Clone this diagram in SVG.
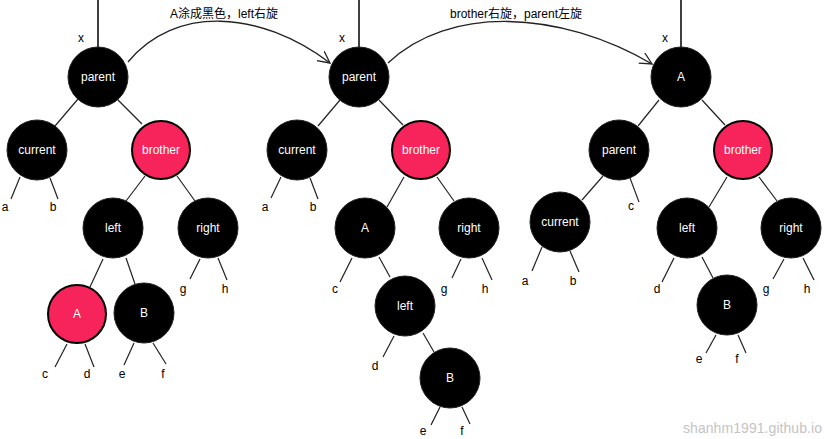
<svg xmlns="http://www.w3.org/2000/svg" width="824" height="439" viewBox="0 0 824 439">
<style>
.b{fill:#000;stroke:#222;stroke-width:1}
.r{fill:#F6245A;stroke:#000;stroke-width:2}
.nt{font-family:"Liberation Sans",Arial,sans-serif;font-size:12px;fill:#fff;text-anchor:middle}
.lt{font-family:"Liberation Sans",Arial,sans-serif;font-size:12px;fill:#000;text-anchor:middle}
.cap{font-family:"Liberation Sans","Noto Sans CJK SC",sans-serif;font-size:12px;fill:#000}
.e{stroke:#222;stroke-width:1.2;fill:none}
.top{stroke:#000;stroke-width:1.5}
.arc{stroke:#222;stroke-width:1.3;fill:none}
.wm{font-family:"Liberation Sans","Noto Sans",sans-serif;font-size:14px;fill:#c4c4c4}
</style>
<defs>
<marker id="ah" markerWidth="14" markerHeight="14" refX="12" refY="6" orient="auto" markerUnits="userSpaceOnUse">
<path d="M0,0 L12,6 L0,12" fill="none" stroke="#222" stroke-width="1.3"/>
</marker>
</defs>
<rect width="824" height="439" fill="#fff"/>
<g id="connectors">
<line class="top" x1="98" y1="0" x2="98" y2="47"/>
<line class="top" x1="359" y1="0" x2="359" y2="47"/>
<line class="top" x1="681" y1="0" x2="681" y2="47"/>
<path class="arc" d="M128,62 C175,5 260,10 330,63" marker-end="url(#ah)"/>
<path class="arc" d="M388,63 C449,5 560,10 652,64" marker-end="url(#ah)"/>
<!-- tree 1 -->
<line class="e" x1="78" y1="99" x2="55" y2="126"/>
<line class="e" x1="117" y1="99" x2="142" y2="124"/>
<line class="e" x1="20" y1="177" x2="11" y2="199"/>
<line class="e" x1="50" y1="178" x2="58" y2="199"/>
<line class="e" x1="145" y1="176" x2="126" y2="201"/>
<line class="e" x1="177" y1="176" x2="195" y2="201"/>
<line class="e" x1="103" y1="259" x2="90" y2="287"/>
<line class="e" x1="126" y1="258" x2="135" y2="284"/>
<line class="e" x1="200" y1="259" x2="190" y2="279"/>
<line class="e" x1="218" y1="258" x2="227" y2="280"/>
<line class="e" x1="67" y1="344" x2="55" y2="367"/>
<line class="e" x1="85" y1="344" x2="94" y2="367"/>
<line class="e" x1="134" y1="343" x2="124" y2="365"/>
<line class="e" x1="153" y1="343" x2="166" y2="364"/>
<!-- tree 2 -->
<line class="e" x1="340" y1="100" x2="318" y2="126"/>
<line class="e" x1="379" y1="100" x2="403" y2="125"/>
<line class="e" x1="281" y1="177" x2="271" y2="198"/>
<line class="e" x1="310" y1="178" x2="318" y2="199"/>
<line class="e" x1="404" y1="177" x2="387" y2="207"/>
<line class="e" x1="437" y1="177" x2="454" y2="201"/>
<line class="e" x1="352" y1="258" x2="340" y2="282"/>
<line class="e" x1="379" y1="257" x2="390" y2="277"/>
<line class="e" x1="461" y1="259" x2="452" y2="278"/>
<line class="e" x1="482" y1="258" x2="492" y2="280"/>
<line class="e" x1="394" y1="336" x2="383" y2="357"/>
<line class="e" x1="423" y1="333" x2="434" y2="352"/>
<line class="e" x1="440" y1="407" x2="431" y2="425"/>
<line class="e" x1="462" y1="407" x2="470" y2="424"/>
<!-- tree 3 -->
<line class="e" x1="659" y1="100" x2="638" y2="126"/>
<line class="e" x1="702" y1="100" x2="725" y2="125"/>
<line class="e" x1="603" y1="176" x2="582" y2="200"/>
<line class="e" x1="630" y1="178" x2="639" y2="202"/>
<line class="e" x1="542" y1="247" x2="532" y2="271"/>
<line class="e" x1="570" y1="251" x2="579" y2="272"/>
<line class="e" x1="727" y1="177" x2="709" y2="207"/>
<line class="e" x1="759" y1="177" x2="777" y2="201"/>
<line class="e" x1="674" y1="258" x2="662" y2="282"/>
<line class="e" x1="702" y1="257" x2="713" y2="278"/>
<line class="e" x1="784" y1="259" x2="773" y2="279"/>
<line class="e" x1="803" y1="258" x2="814" y2="280"/>
<line class="e" x1="716" y1="335" x2="706" y2="353"/>
<line class="e" x1="738" y1="335" x2="746" y2="353"/>
</g>
<g id="captions">
<text class="cap" x="170" y="18">A涂成黑色，left右旋</text>
<text class="cap" x="450" y="18">brother右旋，parent左旋</text>
</g>
<!-- tree 1 nodes -->
<g id="t1-parent"><circle class="b" cx="98" cy="77" r="30"/><text class="nt" x="98" y="81">parent</text></g>
<g id="t1-current"><circle class="b" cx="37" cy="150" r="30"/><text class="nt" x="37" y="154">current</text></g>
<g id="t1-brother"><circle class="r" cx="161" cy="150" r="29"/><text class="nt" x="161" y="154">brother</text></g>
<g id="t1-left"><circle class="b" cx="113" cy="228" r="30"/><text class="nt" x="113" y="232">left</text></g>
<g id="t1-right"><circle class="b" cx="208" cy="228" r="30"/><text class="nt" x="208" y="232">right</text></g>
<g id="t1-A"><circle class="r" cx="77" cy="314" r="29"/><text class="nt" x="77" y="318">A</text></g>
<g id="t1-B"><circle class="b" cx="144" cy="313" r="30"/><text class="nt" x="144" y="317">B</text></g>
<g id="t1-labels">
<text class="lt" x="81" y="42">x</text>
<text class="lt" x="5" y="211">a</text><text class="lt" x="53" y="211">b</text>
<text class="lt" x="183" y="293">g</text><text class="lt" x="225" y="293">h</text>
<text class="lt" x="45" y="378">c</text><text class="lt" x="87" y="378">d</text>
<text class="lt" x="122" y="378">e</text><text class="lt" x="163" y="378">f</text>
</g>
<!-- tree 2 nodes -->
<g id="t2-parent"><circle class="b" cx="359" cy="77" r="30"/><text class="nt" x="359" y="81">parent</text></g>
<g id="t2-current"><circle class="b" cx="297" cy="150" r="30"/><text class="nt" x="297" y="154">current</text></g>
<g id="t2-brother"><circle class="r" cx="421" cy="150" r="29"/><text class="nt" x="421" y="154">brother</text></g>
<g id="t2-A"><circle class="b" cx="365" cy="228" r="30"/><text class="nt" x="365" y="232">A</text></g>
<g id="t2-right"><circle class="b" cx="469" cy="228" r="30"/><text class="nt" x="469" y="232">right</text></g>
<g id="t2-left"><circle class="b" cx="405" cy="306" r="30"/><text class="nt" x="405" y="310">left</text></g>
<g id="t2-B"><circle class="b" cx="450" cy="378" r="30"/><text class="nt" x="450" y="382">B</text></g>
<g id="t2-labels">
<text class="lt" x="342" y="42">x</text>
<text class="lt" x="265" y="211">a</text><text class="lt" x="313" y="211">b</text>
<text class="lt" x="335" y="293">c</text>
<text class="lt" x="444" y="293">g</text><text class="lt" x="485" y="293">h</text>
<text class="lt" x="375" y="370">d</text>
<text class="lt" x="423" y="435">e</text><text class="lt" x="462" y="435">f</text>
</g>
<!-- tree 3 nodes -->
<g id="t3-A"><circle class="b" cx="681" cy="77" r="30"/><text class="nt" x="681" y="81">A</text></g>
<g id="t3-parent"><circle class="b" cx="619" cy="150" r="30"/><text class="nt" x="619" y="154">parent</text></g>
<g id="t3-brother"><circle class="r" cx="743" cy="150" r="29"/><text class="nt" x="743" y="154">brother</text></g>
<g id="t3-current"><circle class="b" cx="560" cy="222" r="30"/><text class="nt" x="560" y="226">current</text></g>
<g id="t3-left"><circle class="b" cx="687" cy="228" r="30"/><text class="nt" x="687" y="232">left</text></g>
<g id="t3-right"><circle class="b" cx="791" cy="228" r="30"/><text class="nt" x="791" y="232">right</text></g>
<g id="t3-B"><circle class="b" cx="727" cy="305" r="30"/><text class="nt" x="727" y="309">B</text></g>
<g id="t3-labels">
<text class="lt" x="665" y="42">x</text>
<text class="lt" x="631" y="210">c</text>
<text class="lt" x="525" y="285">a</text><text class="lt" x="573" y="285">b</text>
<text class="lt" x="657" y="293">d</text>
<text class="lt" x="766" y="293">g</text><text class="lt" x="807" y="293">h</text>
<text class="lt" x="699" y="363">e</text><text class="lt" x="737" y="363">f</text>
</g>
<text class="wm" x="683" y="433" textLength="139">shanhm1991.github.io</text>
</svg>
